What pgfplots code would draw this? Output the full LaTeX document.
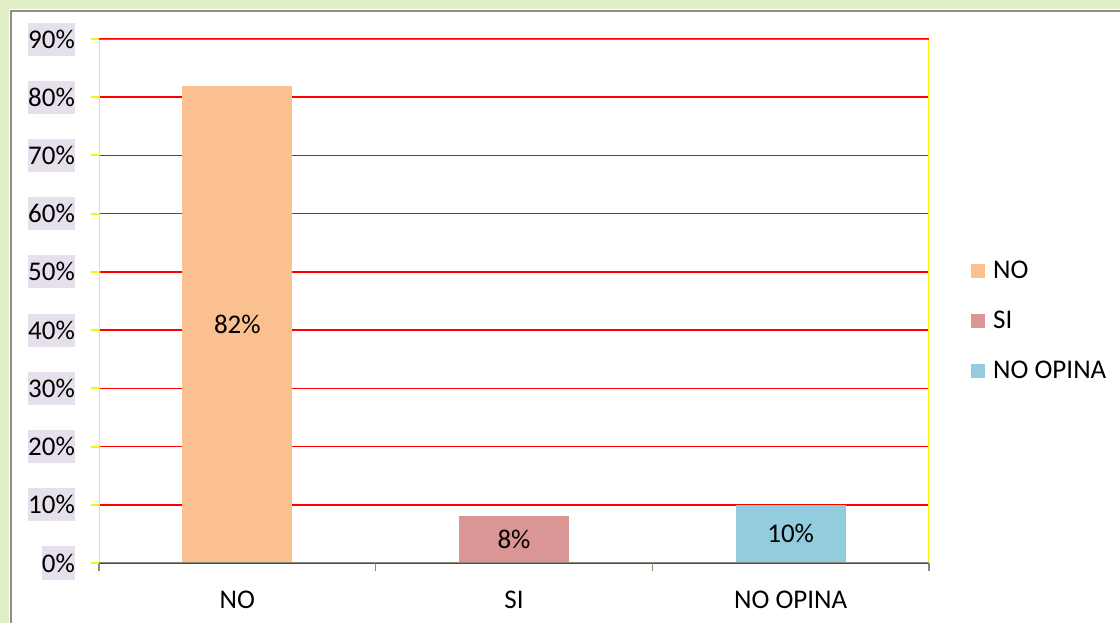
\documentclass[border=0pt]{standalone}
\usepackage{pgfplots}
\pgfplotsset{compat=1.18}
\usepackage{fontspec}
\setmainfont{Carlito}
\definecolor{cno}{HTML}{FAC090}
\definecolor{csi}{HTML}{D99694}
\definecolor{cnop}{HTML}{93CDDD}
\definecolor{lav}{HTML}{E6E0EC}
\definecolor{framegray}{HTML}{8C8C8C}
\definecolor{glow}{HTML}{E2EFC6}
\definecolor{axgray}{HTML}{8A8A7A}
\newcommand\f{\fontsize{27bp}{32bp}\selectfont}
\begin{document}
\begin{tikzpicture}
\useasboundingbox[fill=white] (0,0) rectangle (1120bp,623bp);
\fill[glow] (0,0) rectangle (9bp,623bp);
\fill[glow] (0,614bp) rectangle (1120bp,623bp);
\draw[framegray, line width=2bp] (11bp,-5bp) -- (11bp,612bp) -- (1130bp,612bp);
\begin{axis}[
  at={(99bp,60bp)}, anchor=south west,
  scale only axis, width=830bp, height=524bp,
  ybar, bar width=110bp,
  xmin=-0.5, xmax=2.5, ymin=0, ymax=90,
  axis line style={draw=none},
  xtick={0,1,2}, xticklabels={NO,SI,NO OPINA},
  minor xtick={-0.5,0.5,1.5,2.5},
  ytick={0,10,...,90},
  tick pos=left, tick align=outside,
  major tick length=8bp, minor tick length=8bp,
  major x tick style={draw=none},
  minor x tick style={axgray, line width=1.5bp},
  y tick style={yellow, line width=2bp},
  ymajorgrids, major grid style={red, line width=1.6bp},
  /pgf/number format/assume math mode=true,
  tick label style={font=\f},
  yticklabel={\pgfmathprintnumber{\tick}\%},
  yticklabel style={anchor=east, xshift=-16bp, inner xsep=0pt, fill=lav, minimum height=33bp},
  xticklabel style={anchor=center, yshift=-29bp},
  nodes near coords={\pgfmathprintnumber{\pgfplotspointmeta}\%},
  visualization depends on=y \as \rawy,
  every node near coord/.append style={anchor=center, font=\f, text=black,
    shift={(axis direction cs:0,-\rawy/2)}},
  legend image code/.code={\fill[#1] (0bp,-7bp) rectangle (14bp,7bp);},
  legend style={at={(1.0506,0.462)}, anchor=west, draw=none, fill=none,
    font=\f, inner sep=0pt, nodes={inner sep=0pt}, row sep=31bp,
    /tikz/every odd column/.append style={column sep=8bp}},
  legend cell align=left,
]
\addplot[fill=cno, draw=none, bar shift=0pt] coordinates {(0,82)};
\addplot[fill=csi, draw=none, bar shift=0pt] coordinates {(1,8)};
\addplot[fill=cnop, draw=none, bar shift=0pt] coordinates {(2,10)};
\legend{NO,SI,NO OPINA}
\draw[yellow, line width=2.5bp] (rel axis cs:0,0) -- (rel axis cs:0,1) -- (rel axis cs:1,1) -- (rel axis cs:1,0);
\draw[red!70!yellow, line width=1bp] (rel axis cs:0,1) -- (rel axis cs:1,1);
\draw[axgray, line width=2bp] (rel axis cs:0,0) -- (rel axis cs:1,0);
\end{axis}
\end{tikzpicture}
\end{document}
